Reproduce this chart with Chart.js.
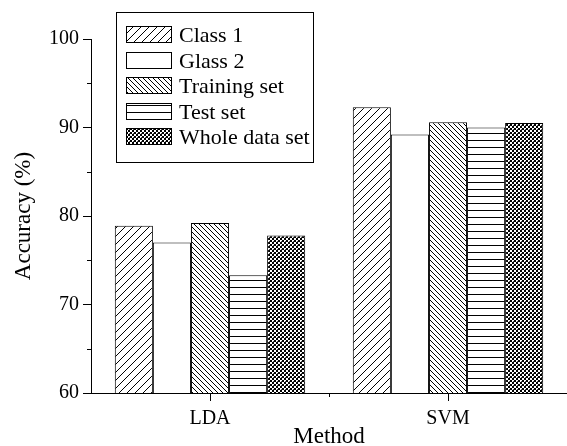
<!DOCTYPE html>
<html>
<head>
<meta charset="utf-8">
<script src="https://cdn.jsdelivr.net/npm/chart.js@4.4.1/dist/chart.umd.min.js"></script>
<style>
  body { margin: 0; background: #fff; }
  canvas { display: block; }
</style>
</head>
<body>
<canvas id="myChart" width="567" height="446"></canvas>
<script>
const methods = ["LDA", "SVM"];
const seriesNames = ["Class 1", "Glass 2", "Training set", "Test set", "Whole data set"];
const class1Acc = [78.9, 92.3];
const glass2Acc = [77.0, 89.2];
const trainAcc = [79.2, 90.6];
const testAcc = [73.3, 90.0];
const wholeAcc = [77.8, 90.5];
const yMin = 60;
const yMax = 100;
const yMinorTicks = [65, 75, 85, 95];

const serif = "'Liberation Serif', 'Times New Roman', serif";

// hatch patterns like the old plotting software
function makePattern(kind) {
	const c = document.createElement("canvas");
	const g = c.getContext("2d");
	let w = 8, h = 8;
	if (kind == "slash") { w = 8; h = 8; }
	if (kind == "back") { w = 5; h = 5; }
	if (kind == "horiz") { w = 4; h = 7; }
	if (kind == "check") { w = 4; h = 4; }
	c.width = w;
	c.height = h;
	g.fillStyle = "#fff";
	g.fillRect(0, 0, w, h);
	g.strokeStyle = "#000";
	g.fillStyle = "#000";
	g.lineWidth = 1;
	if (kind == "slash") {
		g.beginPath();
		g.moveTo(-1, h + 1); g.lineTo(w + 1, -1);
		g.moveTo(-1, 1); g.lineTo(1, -1);
		g.moveTo(w - 1, h + 1); g.lineTo(w + 1, h - 1);
		g.stroke();
	} else if (kind == "back") {
		g.beginPath();
		g.moveTo(-1, -1); g.lineTo(w + 1, h + 1);
		g.moveTo(w - 1, -1); g.lineTo(w + 1, 1);
		g.moveTo(-1, h - 1); g.lineTo(1, h + 1);
		g.stroke();
	} else if (kind == "horiz") {
		g.fillRect(0, 0, w, 1);
	} else if (kind == "check") {
		g.fillRect(2, 0, 2, 2);
		g.fillRect(0, 2, 2, 2);
		g.fillStyle = "#555";
		g.fillRect(1, 1, 1, 1);
	}
	return g.createPattern(c, "repeat");
}

const fills = [
	makePattern("slash"),
	"#ffffff",
	makePattern("back"),
	makePattern("horiz"),
	makePattern("check"),
];
const seriesValues = [class1Acc, glass2Acc, trainAcc, testAcc, wholeAcc];

const boxLegend = {
	id: "boxLegend",
	afterDraw(chart) {
		const ctx = chart.ctx;
		ctx.save();
		ctx.strokeStyle = "#000";
		ctx.lineWidth = 1;
		ctx.fillStyle = "#fff";
		ctx.fillRect(116.5, 12.5, 197, 150);
		ctx.strokeRect(116.5, 12.5, 197, 150);
		ctx.font = "22px " + serif;
		ctx.textBaseline = "alphabetic";
		chart.data.datasets.forEach((ds, i) => {
			const y = 26 + i * 25.5;
			ctx.fillStyle = ds.backgroundColor;
			ctx.fillRect(126, Math.round(y), 46, 17);
			ctx.strokeRect(126.5, Math.round(y) + 0.5, 45, 16);
			ctx.fillStyle = "#000";
			ctx.fillText(ds.label, 179, Math.round(y) + 16);
		});
		ctx.restore();
	},
};

const minorTicks = {
	id: "minorTicks",
	afterDraw(chart) {
		const ctx = chart.ctx;
		const x = chart.scales.x;
		const y = chart.scales.y;
		ctx.save();
		ctx.strokeStyle = "#000";
		ctx.lineWidth = 1;
		ctx.beginPath();
		yMinorTicks.forEach((v) => {
			const py = Math.round(y.getPixelForValue(v)) + 0.5;
			ctx.moveTo(x.left - 4, py);
			ctx.lineTo(x.left, py);
		});
		for (let i = 0; i < methods.length - 1; i++) {
			const px = Math.round((x.getPixelForValue(i) + x.getPixelForValue(i + 1)) / 2) + 0.5;
			ctx.moveTo(px, y.bottom);
			ctx.lineTo(px, y.bottom + 4);
		}
		ctx.stroke();
		ctx.restore();
	},
};

const ctx = document.getElementById("myChart");

let grafico = new Chart(ctx, {
	type: "bar",
	data: {
		labels: methods,
		datasets: seriesNames.map((name, i) => ({
			label: name,
			data: seriesValues[i],
			backgroundColor: fills[i],
			borderColor: "#000",
			borderWidth: 1,
			barPercentage: 1,
			categoryPercentage: 0.8,
		})),
	},
	options: {
		responsive: false,
		animation: false,
		devicePixelRatio: 1,
		layout: { padding: { top: 39, right: 0, left: 0, bottom: 0 } },
		plugins: {
			legend: { display: false },
			tooltip: { enabled: false },
		},
		scales: {
			x: {
				afterFit: (s) => { s.height = 53; },
				grid: {
					offset: false,
					drawOnChartArea: false,
					tickLength: 8,
					color: "#000",
				},
				border: { color: "#000", width: 1 },
				ticks: {
					color: "#000",
					padding: 6,
					font: { family: serif, size: 20 },
				},
				title: {
					display: true,
					text: "Method",
					color: "#000",
					font: { family: serif, size: 23, lineHeight: 0.8 },
					padding: { top: 0, bottom: 0 },
				},
			},
			y: {
				min: yMin,
				max: yMax,
				afterFit: (s) => { s.width = 91; },
				grid: {
					drawOnChartArea: false,
					tickLength: 8,
					color: "#000",
				},
				border: { color: "#000", width: 1 },
				ticks: {
					stepSize: 10,
					color: "#000",
					padding: 4,
					font: { family: serif, size: 20 },
				},
				title: {
					display: true,
					text: "Accuracy (%)",
					color: "#000",
					font: { family: serif, size: 23 },
					padding: { top: 10, bottom: 0 },
				},
			},
		},
	},
	plugins: [boxLegend, minorTicks],
});
</script>
</body>
</html>
